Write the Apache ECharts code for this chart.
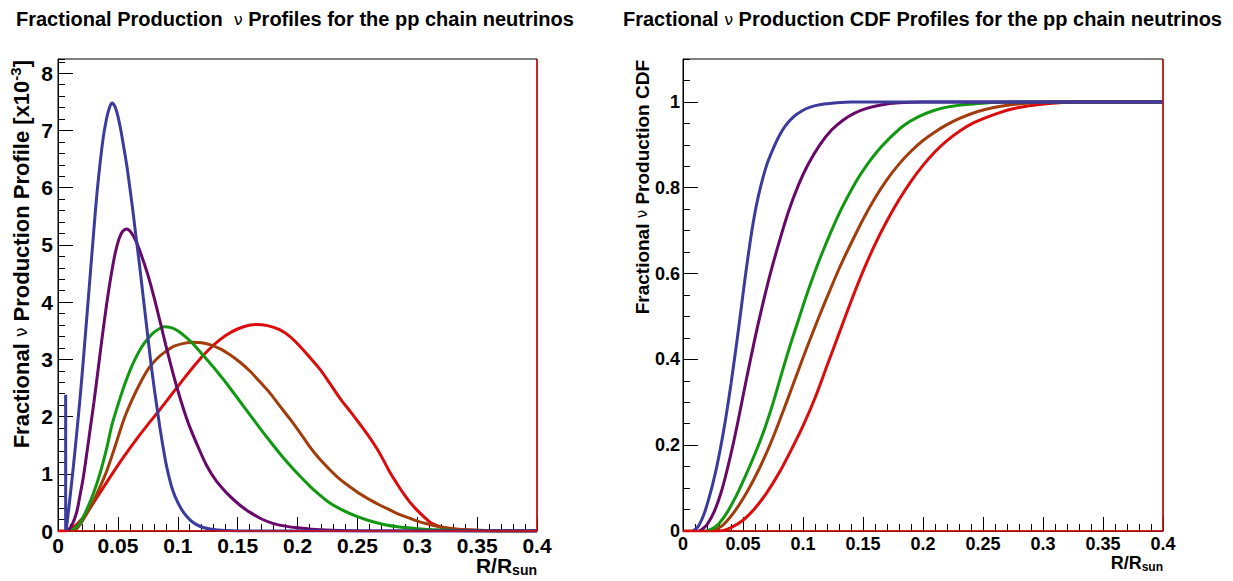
<!DOCTYPE html>
<html>
<head>
<meta charset="utf-8">
<script src="https://cdn.jsdelivr.net/npm/echarts@6/dist/echarts.min.js"></script>
<style>
  html, body { margin: 0; padding: 0; background: #ffffff; }
  #chart { width: 1233px; height: 581px; }
</style>
</head>
<body>
<div id="chart"></div>
<script>
// Radial production profiles (units of 1e-3 per bin) for five pp-chain neutrino sources,
// as [R/Rsun, value] pairs. A '-' entry breaks the line.
const blueProfile = [
  [0.0064, 0], [0.0064, 2.38], [0.0065, '-'],
  [0.0064, 0], [0.0072, 0.08], [0.010, 0.58], [0.0128, 1.12], [0.0155, 1.68], [0.0184, 2.32],
  [0.021, 2.95], [0.024, 3.72], [0.027, 4.5], [0.0295, 5.15], [0.0323, 5.85], [0.035, 6.4],
  [0.0378, 6.88], [0.040, 7.15], [0.0425, 7.37], [0.045, 7.48], [0.0475, 7.42], [0.050, 7.25],
  [0.0525, 7.0], [0.055, 6.7], [0.0575, 6.38], [0.060, 6.0], [0.0625, 5.6], [0.065, 5.17],
  [0.0675, 4.75], [0.070, 4.3], [0.0725, 3.85], [0.075, 3.4], [0.0775, 2.95], [0.080, 2.55],
  [0.0825, 2.18], [0.085, 1.82], [0.0875, 1.5], [0.090, 1.2], [0.093, 0.92], [0.096, 0.7],
  [0.100, 0.5], [0.105, 0.32], [0.110, 0.2], [0.115, 0.12], [0.120, 0.07], [0.128, 0.03],
  [0.140, 0.01], [0.160, 0], [0.400, 0]
];
const purpleProfile = [
  [0.008, 0], [0.012, 0.12], [0.0156, 0.33], [0.018, 0.58], [0.021, 0.92], [0.024, 1.35],
  [0.027, 1.8], [0.030, 2.25], [0.033, 2.74], [0.036, 3.24], [0.039, 3.72], [0.042, 4.16],
  [0.045, 4.55], [0.048, 4.88], [0.051, 5.11], [0.054, 5.24], [0.0574, 5.28], [0.061, 5.22],
  [0.065, 5.07], [0.070, 4.8], [0.075, 4.48], [0.080, 4.1], [0.085, 3.68], [0.090, 3.25],
  [0.095, 2.84], [0.100, 2.46], [0.105, 2.12], [0.110, 1.82], [0.117, 1.47], [0.124, 1.15],
  [0.132, 0.88], [0.142, 0.64], [0.152, 0.45], [0.160, 0.33], [0.170, 0.21], [0.180, 0.13],
  [0.190, 0.085], [0.200, 0.055], [0.215, 0.025], [0.235, 0.008], [0.260, 0], [0.400, 0]
];
const greenProfile = [
  [0.010, 0], [0.014, 0.05], [0.0184, 0.14], [0.025, 0.42], [0.030, 0.68], [0.035, 1.0],
  [0.0407, 1.45], [0.045, 1.85], [0.050, 2.2], [0.055, 2.52], [0.060, 2.8], [0.065, 3.03],
  [0.070, 3.22], [0.075, 3.36], [0.080, 3.47], [0.085, 3.54], [0.089, 3.57], [0.095, 3.55],
  [0.100, 3.5], [0.105, 3.42], [0.110, 3.33], [0.115, 3.22], [0.120, 3.1], [0.125, 2.98],
  [0.130, 2.86], [0.135, 2.73], [0.140, 2.6], [0.145, 2.46], [0.150, 2.32], [0.155, 2.18],
  [0.160, 2.04], [0.165, 1.9], [0.170, 1.76], [0.177, 1.57], [0.185, 1.36], [0.194, 1.14],
  [0.202, 0.96], [0.210, 0.79], [0.218, 0.64], [0.227, 0.49], [0.238, 0.36], [0.249, 0.26],
  [0.260, 0.18], [0.272, 0.115], [0.285, 0.07], [0.298, 0.045], [0.310, 0.025], [0.330, 0.01],
  [0.350, 0], [0.400, 0]
];
const brownProfile = [
  [0.012, 0], [0.016, 0.05], [0.0211, 0.2], [0.028, 0.45], [0.034, 0.72], [0.0407, 1.05],
  [0.048, 1.5], [0.055, 1.95], [0.062, 2.3], [0.069, 2.6], [0.076, 2.85], [0.083, 3.02],
  [0.090, 3.14], [0.097, 3.23], [0.105, 3.28], [0.113, 3.3], [0.120, 3.29], [0.128, 3.25],
  [0.136, 3.18], [0.1436, 3.08], [0.152, 2.95], [0.160, 2.8], [0.168, 2.62], [0.177, 2.41],
  [0.185, 2.19], [0.194, 1.95], [0.202, 1.72], [0.210, 1.48], [0.218, 1.27], [0.227, 1.07],
  [0.235, 0.91], [0.244, 0.77], [0.252, 0.65], [0.261, 0.54], [0.269, 0.45], [0.277, 0.37],
  [0.285, 0.29], [0.294, 0.22], [0.302, 0.16], [0.311, 0.11], [0.320, 0.07], [0.327, 0.05],
  [0.340, 0.025], [0.360, 0.01], [0.370, 0], [0.400, 0]
];
const redProfile = [
  [0.000, 0], [0.006, 0], [0.012, 0.05], [0.020, 0.21], [0.028, 0.44], [0.036, 0.7],
  [0.045, 0.99], [0.055, 1.3], [0.065, 1.59], [0.075, 1.86], [0.085, 2.12], [0.095, 2.39],
  [0.105, 2.66], [0.115, 2.92], [0.125, 3.15], [0.135, 3.34], [0.145, 3.48], [0.155, 3.57],
  [0.165, 3.61], [0.175, 3.59], [0.185, 3.52], [0.193, 3.41], [0.202, 3.23], [0.210, 3.04],
  [0.219, 2.82], [0.227, 2.58], [0.2355, 2.32], [0.244, 2.09], [0.252, 1.87], [0.259, 1.67],
  [0.266, 1.45], [0.272, 1.23], [0.277, 1.03], [0.283, 0.83], [0.288, 0.67], [0.294, 0.5],
  [0.300, 0.36], [0.306, 0.24], [0.311, 0.15], [0.317, 0.09], [0.322, 0.05], [0.330, 0.025],
  [0.350, 0.01], [0.370, 0], [0.400, 0]
];

// Cumulative production fractions for the same five sources.
const blueCdf = [
  [0.0086, 0], [0.013, 0.012], [0.0176, 0.04], [0.022, 0.08], [0.025, 0.112], [0.028, 0.148],
  [0.031, 0.19], [0.034, 0.236], [0.037, 0.287], [0.040, 0.343], [0.043, 0.403], [0.046, 0.465],
  [0.049, 0.53], [0.052, 0.595], [0.055, 0.655], [0.058, 0.71], [0.061, 0.757], [0.065, 0.806],
  [0.070, 0.855], [0.075, 0.89], [0.080, 0.92], [0.085, 0.943], [0.092, 0.965], [0.099, 0.979],
  [0.106, 0.988], [0.115, 0.994], [0.128, 0.998], [0.140, 1], [0.400, 1]
];
const purpleCdf = [
  [0.014, 0], [0.020, 0.015], [0.026, 0.045], [0.032, 0.092], [0.037, 0.145], [0.042, 0.205],
  [0.047, 0.272], [0.052, 0.342], [0.057, 0.41], [0.062, 0.475], [0.067, 0.535], [0.0725, 0.597],
  [0.080, 0.672], [0.088, 0.745], [0.096, 0.805], [0.104, 0.853], [0.114, 0.9], [0.124, 0.935],
  [0.1336, 0.958], [0.143, 0.974], [0.153, 0.985], [0.165, 0.993], [0.180, 0.998], [0.200, 1],
  [0.400, 1]
];
const greenCdf = [
  [0.020, 0], [0.028, 0.012], [0.036, 0.04], [0.044, 0.08], [0.052, 0.128], [0.060, 0.18],
  [0.0676, 0.235], [0.075, 0.298], [0.082, 0.365], [0.089, 0.43], [0.096, 0.49], [0.103, 0.55],
  [0.110, 0.605], [0.117, 0.655], [0.124, 0.702], [0.131, 0.745], [0.138, 0.783], [0.145, 0.818],
  [0.153, 0.852], [0.162, 0.885], [0.172, 0.915], [0.184, 0.945], [0.196, 0.965], [0.209, 0.98],
  [0.222, 0.989], [0.236, 0.994], [0.250, 0.997], [0.264, 0.999], [0.280, 1], [0.400, 1]
];
const brownCdf = [
  [0.025, 0], [0.033, 0.013], [0.041, 0.038], [0.050, 0.075], [0.059, 0.12], [0.068, 0.172],
  [0.077, 0.232], [0.086, 0.298], [0.095, 0.366], [0.104, 0.433], [0.113, 0.497], [0.122, 0.558],
  [0.131, 0.617], [0.140, 0.67], [0.150, 0.726], [0.160, 0.776], [0.170, 0.819], [0.180, 0.855],
  [0.190, 0.885], [0.200, 0.91], [0.210, 0.93], [0.220, 0.947], [0.231, 0.962], [0.245, 0.977],
  [0.259, 0.987], [0.275, 0.994], [0.290, 0.998], [0.305, 1], [0.400, 1]
];
const redCdf = [
  [0.000, 0], [0.031, 0], [0.040, 0.008], [0.050, 0.025], [0.060, 0.053], [0.070, 0.09],
  [0.080, 0.135], [0.090, 0.188], [0.100, 0.245], [0.110, 0.31], [0.120, 0.385], [0.130, 0.46],
  [0.140, 0.535], [0.150, 0.605], [0.160, 0.668], [0.170, 0.723], [0.180, 0.772], [0.190, 0.815],
  [0.200, 0.852], [0.210, 0.884], [0.220, 0.91], [0.231, 0.933], [0.242, 0.951], [0.253, 0.964],
  [0.264, 0.975], [0.275, 0.984], [0.286, 0.99], [0.297, 0.994], [0.308, 0.997], [0.320, 0.999],
  [0.330, 1], [0.400, 1]
];

const COLORS = { blue: '#3b3b9e', purple: '#680868', green: '#109910', brown: '#a23c0a', red: '#dc0c0c' };
const FONT = '"Liberation Sans", Arial, Helvetica, sans-serif';
const NU_FONT = '"DejaVu Sans", sans-serif';

const chart = echarts.init(document.getElementById('chart'), null, { renderer: 'svg' });

function xAxisCfg(gridIndex, labelSize, nameSize, subSize, namePad) {
  return {
    type: 'value', gridIndex, min: 0, max: 0.4, interval: 0.05,
    name: '{m|R/R}{s|sun}', nameLocation: 'end', nameGap: 0, nameMoveOverlap: false,
    nameTextStyle: {
      align: 'right', verticalAlign: 'top', padding: [namePad, 0, 0, 0],
      rich: {
        m: { fontFamily: FONT, fontWeight: 'bold', fontSize: nameSize, color: '#000', lineHeight: nameSize + 3 },
        s: { fontFamily: FONT, fontWeight: 'bold', fontSize: subSize, color: '#000', lineHeight: subSize - 2, verticalAlign: 'bottom' }
      }
    },
    axisLine: { show: true, onZero: false, lineStyle: { color: '#000', width: 1 } },
    axisTick: { show: true, inside: true, length: 14, lineStyle: { color: '#000', width: 1 } },
    minorTick: { show: true, splitNumber: 5, length: 7, lineStyle: { color: '#000', width: 1 } },
    axisLabel: { margin: 4, fontFamily: FONT, fontWeight: 'bold', fontSize: labelSize, color: '#000' },
    splitLine: { show: false }, minorSplitLine: { show: false }
  };
}
function yAxisMajor(gridIndex, max, interval, margin, fontSize) {
  return {
    type: 'value', gridIndex, position: 'left', offset: 0, min: 0, max, interval,
    axisLine: { show: true, onZero: false, lineStyle: { color: '#000', width: 1 } },
    axisTick: { show: true, inside: true, length: 15, lineStyle: { color: '#000', width: 1 } },
    axisLabel: { margin, showMaxLabel: false, fontFamily: FONT, fontWeight: 'bold', fontSize, color: '#000' },
    splitLine: { show: false }
  };
}
function yAxisMinor(gridIndex, max, interval) {
  return {
    type: 'value', gridIndex, position: 'left', offset: 0, min: 0, max, interval,
    axisLine: { show: false },
    axisTick: { show: true, inside: true, length: 7, lineStyle: { color: '#000', width: 1 } },
    axisLabel: { show: false },
    splitLine: { show: false }
  };
}
function curve(name, data, color, xIdx, yIdx, extra) {
  return Object.assign({
    name, type: 'line', data, xAxisIndex: xIdx, yAxisIndex: yIdx,
    showSymbol: false, symbol: 'none', smooth: 0.3,
    lineStyle: { color, width: 3 }, itemStyle: { color },
    animation: false, silent: true, clip: true
  }, extra || {});
}
const edgeMarks = {
  silent: true, symbol: 'none', animation: false, label: { show: false },
  lineStyle: { color: COLORS.red, width: 1.5, type: 'solid' },
  data: [{ xAxis: 0.4 }, { yAxis: 0 }]
};

const titleRich = {
  b: { fontFamily: FONT, fontWeight: 'bold', fontSize: 20, color: '#000' },
  n: { fontFamily: NU_FONT, fontWeight: 'normal', fontSize: 16, color: '#000' }
};

chart.setOption({
  backgroundColor: '#ffffff',
  animation: false,
  title: [
    { text: '{b|Fractional Production  }{n|ν}{b| Profiles for the pp chain neutrinos}', left: 11, top: 4,
      textStyle: { rich: titleRich } },
    { text: '{b|Fractional }{n|ν}{b| Production CDF Profiles for the pp chain neutrinos}', left: 618, top: 4,
      textStyle: { rich: titleRich } }
  ],
  grid: [
    { left: 58, top: 59, width: 479, height: 472, show: true, borderColor: '#000', borderWidth: 1, outerBoundsMode: 'none' },
    { left: 683, top: 59, width: 480, height: 472, show: true, borderColor: '#000', borderWidth: 1, outerBoundsMode: 'none' }
  ],
  xAxis: [xAxisCfg(0, 21, 21, 14, 22), xAxisCfg(1, 18, 18, 12, 21)],
  yAxis: [
    yAxisMajor(0, 8.25, 1, 5, 21),
    yAxisMinor(0, 8.25, 0.2),
    yAxisMajor(1, 1.1, 0.2, 3, 18),
    yAxisMinor(1, 1.1, 0.05)
  ],
  graphic: [
    { type: 'text', x: 21, y: 60, rotation: Math.PI / 2, silent: true,
      style: {
        text: '{b|Fractional }{n|ν}{b| Production Profile [x10}{p|-3}{b|]}',
        align: 'right', verticalAlign: 'middle', textAlign: 'right', textVerticalAlign: 'middle',
        rich: {
          b: { fontFamily: FONT, fontWeight: 'bold', fontSize: 22, fill: '#000', color: '#000', lineHeight: 26 },
          n: { fontFamily: NU_FONT, fontWeight: 'normal', fontSize: 17, fill: '#000', color: '#000', lineHeight: 26 },
          p: { fontFamily: FONT, fontWeight: 'bold', fontSize: 15, fill: '#000', color: '#000', lineHeight: 15, verticalAlign: 'top' }
        }
      } },
    { type: 'text', x: 642, y: 60, rotation: Math.PI / 2, silent: true,
      style: {
        text: '{b|Fractional }{n|ν}{b| Production CDF}',
        align: 'right', verticalAlign: 'middle', textAlign: 'right', textVerticalAlign: 'middle',
        rich: {
          b: { fontFamily: FONT, fontWeight: 'bold', fontSize: 19, fill: '#000', color: '#000' },
          n: { fontFamily: NU_FONT, fontWeight: 'normal', fontSize: 15, fill: '#000', color: '#000' }
        }
      } }
  ],
  series: [
    curve('red', redProfile, COLORS.red, 0, 0, { markLine: edgeMarks }),
    curve('brown', brownProfile, COLORS.brown, 0, 0),
    curve('green', greenProfile, COLORS.green, 0, 0),
    curve('purple', purpleProfile, COLORS.purple, 0, 0),
    curve('blue', blueProfile, COLORS.blue, 0, 0, { connectNulls: false }),
    curve('red CDF', redCdf, COLORS.red, 1, 2, { markLine: edgeMarks }),
    curve('brown CDF', brownCdf, COLORS.brown, 1, 2),
    curve('green CDF', greenCdf, COLORS.green, 1, 2),
    curve('purple CDF', purpleCdf, COLORS.purple, 1, 2),
    curve('blue CDF', blueCdf, COLORS.blue, 1, 2)
  ]
});
</script>
</body>
</html>
